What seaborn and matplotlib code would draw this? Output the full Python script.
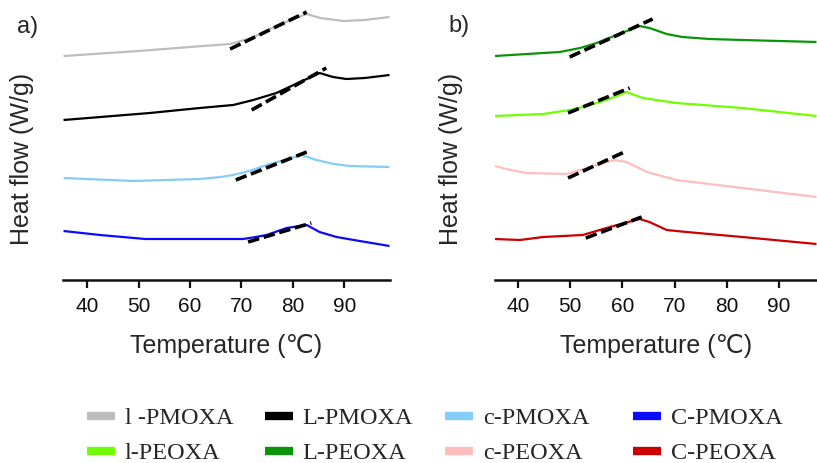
import matplotlib
matplotlib.use("Agg")
import matplotlib.pyplot as plt
from matplotlib.lines import Line2D
import pandas as pd
import seaborn as sns

# ---- DSC traces, panel a: PMOXA samples (temperature in °C, heat flow in W/g, stacked) ----
t_l_pmoxa = [35.4, 50.0, 60.0, 67.8, 72.0, 76.0, 80.0, 82.7, 85.3, 89.8, 94.0, 98.8]
hf_l_pmoxa = [2.24, 2.29, 2.33, 2.36, 2.42, 2.52, 2.61, 2.66, 2.62, 2.59, 2.60, 2.63]

t_L_pmoxa = [35.4, 52.2, 61.9, 68.4, 72.3, 76.8, 81.4, 84.0, 85.2, 87.8, 90.4, 94.0, 98.8]
hf_L_pmoxa = [1.60, 1.67, 1.72, 1.75, 1.80, 1.87, 1.98, 2.04, 2.07, 2.03, 2.01, 2.02, 2.05]

t_c_pmoxa = [35.4, 49.0, 61.9, 66.0, 68.4, 71.5, 74.9, 78.5, 81.7, 84.6, 88.0, 91.1, 98.8]
hf_c_pmoxa = [1.02, 0.99, 1.01, 1.03, 1.05, 1.09, 1.15, 1.20, 1.25, 1.20, 1.16, 1.14, 1.13]

t_C_pmoxa = [35.4, 42.5, 51.3, 61.9, 70.3, 72.8, 74.9, 78.8, 82.7, 85.2, 88.5, 93.0, 98.8]
hf_C_pmoxa = [0.49, 0.45, 0.41, 0.41, 0.41, 0.43, 0.45, 0.52, 0.55, 0.48, 0.43, 0.39, 0.34]

# ---- panel b: PEOXA samples ----
t_L_peoxa = [35.6, 41.7, 48.0, 51.9, 55.1, 58.9, 63.3, 65.2, 68.5, 71.5, 76.7, 83.0, 97.2]
hf_L_peoxa = [2.24, 2.26, 2.28, 2.32, 2.37, 2.45, 2.54, 2.52, 2.46, 2.43, 2.41, 2.40, 2.38]

t_l_peoxa = [35.6, 44.8, 49.9, 52.5, 55.1, 58.0, 60.8, 63.9, 70.4, 83.0, 97.2]
hf_l_peoxa = [1.64, 1.66, 1.70, 1.73, 1.77, 1.82, 1.88, 1.82, 1.77, 1.72, 1.64]

t_c_peoxa = [35.6, 38.5, 41.7, 49.4, 53.2, 58.5, 60.8, 64.7, 70.4, 83.0, 97.2]
hf_c_peoxa = [1.14, 1.10, 1.07, 1.06, 1.12, 1.20, 1.18, 1.08, 1.00, 0.92, 0.83]

t_C_peoxa = [35.6, 40.4, 44.8, 52.4, 57.6, 63.3, 65.2, 68.5, 72.3, 83.0, 97.2]
hf_C_peoxa = [0.41, 0.40, 0.43, 0.45, 0.53, 0.61, 0.58, 0.50, 0.48, 0.43, 0.36]

# ---- tangent lines used to read the transition onset (start, end) ----
tan_t_l_pmoxa, tan_hf_l_pmoxa = [67.8, 82.7], [2.31, 2.68]
tan_t_L_pmoxa, tan_hf_L_pmoxa = [72.0, 86.5], [1.70, 2.12]
tan_t_c_pmoxa, tan_hf_c_pmoxa = [68.9, 82.7], [1.00, 1.28]
tan_t_C_pmoxa, tan_hf_C_pmoxa = [71.3, 83.6], [0.38, 0.57]
tan_t_L_peoxa, tan_hf_L_peoxa = [49.9, 65.8], [2.23, 2.61]
tan_t_l_peoxa, tan_hf_l_peoxa = [49.6, 61.4], [1.67, 1.92]
tan_t_c_peoxa, tan_hf_c_peoxa = [49.6, 60.8], [1.02, 1.29]
tan_t_C_peoxa, tan_hf_C_peoxa = [53.0, 63.7], [0.42, 0.63]

samples_a = ["l -PMOXA", "L-PMOXA", "c-PMOXA", "C-PMOXA"]
samples_b = ["L-PEOXA", "l-PEOXA", "c-PEOXA", "C-PEOXA"]

palette = {
    "l -PMOXA": "#bdbdbd",
    "L-PMOXA": "#000000",
    "c-PMOXA": "#84cdf8",
    "C-PMOXA": "#0a0aff",
    "l-PEOXA": "#70ff00",
    "L-PEOXA": "#0a940a",
    "c-PEOXA": "#ffbdbd",
    "C-PEOXA": "#cc0000",
}

legend_columns = [
    ["l -PMOXA", "l-PEOXA"],
    ["L-PMOXA", "L-PEOXA"],
    ["c-PMOXA", "c-PEOXA"],
    ["C-PMOXA", "C-PEOXA"],
]

xticks = [40, 50, 60, 70, 80, 90]


def long_frame(names, temps, flows):
    rows = []
    for name, t, h in zip(names, temps, flows):
        rows.append(pd.DataFrame({"sample": name, "T": t, "hf": h}))
    return pd.concat(rows, ignore_index=True)


curves_a = long_frame(samples_a,
                      [t_l_pmoxa, t_L_pmoxa, t_c_pmoxa, t_C_pmoxa],
                      [hf_l_pmoxa, hf_L_pmoxa, hf_c_pmoxa, hf_C_pmoxa])
curves_b = long_frame(samples_b,
                      [t_L_peoxa, t_l_peoxa, t_c_peoxa, t_C_peoxa],
                      [hf_L_peoxa, hf_l_peoxa, hf_c_peoxa, hf_C_peoxa])
tangents_a = long_frame(samples_a,
                        [tan_t_l_pmoxa, tan_t_L_pmoxa, tan_t_c_pmoxa, tan_t_C_pmoxa],
                        [tan_hf_l_pmoxa, tan_hf_L_pmoxa, tan_hf_c_pmoxa, tan_hf_C_pmoxa])
tangents_b = long_frame(samples_b,
                        [tan_t_L_peoxa, tan_t_l_peoxa, tan_t_c_peoxa, tan_t_C_peoxa],
                        [tan_hf_L_peoxa, tan_hf_l_peoxa, tan_hf_c_peoxa, tan_hf_C_peoxa])

sns.set_theme(style="white")
plt.rcParams["font.family"] = ["Liberation Sans", "DejaVu Sans"]
plt.rcParams["axes.linewidth"] = 1.8
plt.rcParams["xtick.major.width"] = 1.6
plt.rcParams["xtick.major.size"] = 5.5
plt.rcParams["xtick.major.pad"] = 7
plt.rcParams["xtick.color"] = "#111111"
plt.rcParams["lines.solid_capstyle"] = "butt"

W, H = 817, 463
fig = plt.figure(figsize=(W / 100, H / 100), dpi=100)

ax_a = fig.add_axes([63 / W, 1 - 280 / H, 327 / W, 272 / H])
ax_b = fig.add_axes([495 / W, 1 - 280 / H, 322 / W, 272 / H])

# axes, curves, tangents, x-range, panel tag, tag position (px), ylabel anchor
panels = [
    (ax_a, curves_a, tangents_a, (35.3, 98.9), "a)", (28, 27), -0.088),
    (ax_b, curves_b, tangents_b, (35.6, 97.3), "b)", (459, 26), -0.100),
]

for ax, curves, tangents, xlim, tag, tag_xy, ylab_x in panels:
    sns.lineplot(data=curves, x="T", y="hf", hue="sample", palette=palette,
                 estimator=None, sort=False, linewidth=1.6, legend=False, ax=ax)
    sns.lineplot(data=tangents, x="T", y="hf", units="sample", estimator=None,
                 sort=False, color="black", linewidth=2.6,
                 linestyle=(0, (3.2, 1.3)), legend=False, ax=ax)
    ax.set_xlim(*xlim)
    ax.set_ylim(0, 2.72)
    ax.set_xticks(xticks)
    ax.set_yticks([])
    ax.tick_params(axis="x", labelsize=15, bottom=True, direction="out")
    sns.despine(ax=ax, left=True)
    ax.spines["bottom"].set_color("#111111")
    ax.set_xlabel("Temperature (℃)", fontsize=18)
    ax.xaxis.set_label_coords(0.5, -0.2)
    ax.set_ylabel("Heat flow (W/g)", fontsize=18)
    ax.yaxis.set_label_coords(ylab_x, 0.445)
    fig.text(tag_xy[0] / W, 1 - tag_xy[1] / H, tag, ha="center", va="center",
             fontsize=17)

# legend laid out as four columns of two entries each
col_x = [87, 265, 445, 633]
for x, names in zip(col_x, legend_columns):
    handles = [Line2D([], [], color=palette[n], linewidth=6,
                      solid_capstyle="butt") for n in names]
    fig.legend(handles, names, loc="upper left",
               bbox_to_anchor=(x / W, 1 - 407 / H), frameon=False,
               borderpad=0, borderaxespad=0, handlelength=1.15,
               handletextpad=0.4, labelspacing=0.55,
               prop={"family": "Liberation Serif", "size": 17.5})

fig.savefig("out.png", dpi=100)
